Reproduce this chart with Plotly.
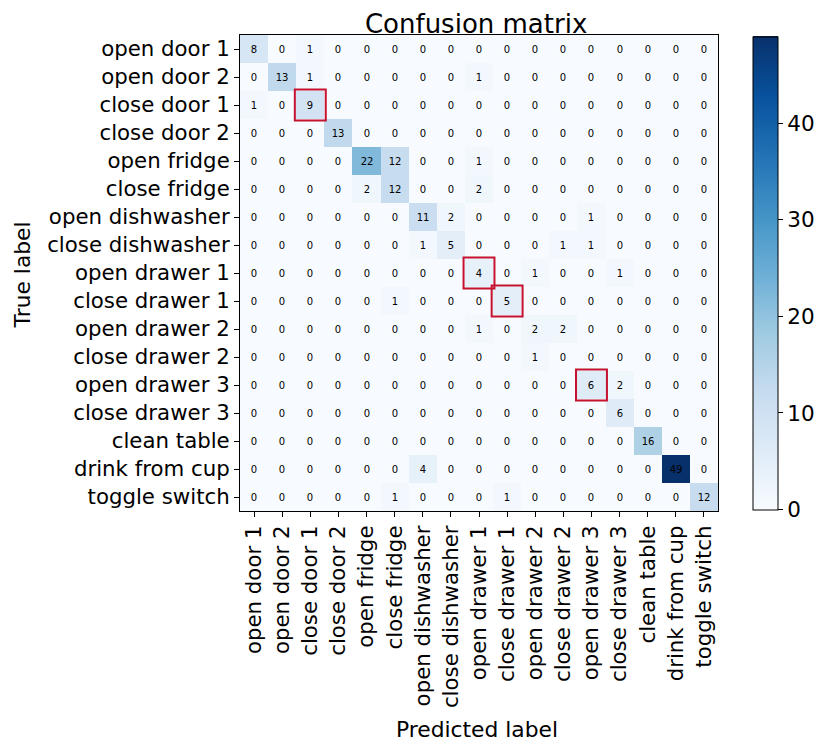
import plotly.graph_objects as go

labels = ["open door 1", "open door 2", "close door 1", "close door 2",
          "open fridge", "close fridge", "open dishwasher", "close dishwasher",
          "open drawer 1", "close drawer 1", "open drawer 2", "close drawer 2",
          "open drawer 3", "close drawer 3", "clean table", "drink from cup",
          "toggle switch"]

matrix = [
    [8, 0, 1, 0, 0, 0, 0, 0, 0, 0, 0, 0, 0, 0, 0, 0, 0],
    [0, 13, 1, 0, 0, 0, 0, 0, 1, 0, 0, 0, 0, 0, 0, 0, 0],
    [1, 0, 9, 0, 0, 0, 0, 0, 0, 0, 0, 0, 0, 0, 0, 0, 0],
    [0, 0, 0, 13, 0, 0, 0, 0, 0, 0, 0, 0, 0, 0, 0, 0, 0],
    [0, 0, 0, 0, 22, 12, 0, 0, 1, 0, 0, 0, 0, 0, 0, 0, 0],
    [0, 0, 0, 0, 2, 12, 0, 0, 2, 0, 0, 0, 0, 0, 0, 0, 0],
    [0, 0, 0, 0, 0, 0, 11, 2, 0, 0, 0, 0, 1, 0, 0, 0, 0],
    [0, 0, 0, 0, 0, 0, 1, 5, 0, 0, 0, 1, 1, 0, 0, 0, 0],
    [0, 0, 0, 0, 0, 0, 0, 0, 4, 0, 1, 0, 0, 1, 0, 0, 0],
    [0, 0, 0, 0, 0, 1, 0, 0, 0, 5, 0, 0, 0, 0, 0, 0, 0],
    [0, 0, 0, 0, 0, 0, 0, 0, 1, 0, 2, 2, 0, 0, 0, 0, 0],
    [0, 0, 0, 0, 0, 0, 0, 0, 0, 0, 1, 0, 0, 0, 0, 0, 0],
    [0, 0, 0, 0, 0, 0, 0, 0, 0, 0, 0, 0, 6, 2, 0, 0, 0],
    [0, 0, 0, 0, 0, 0, 0, 0, 0, 0, 0, 0, 0, 6, 0, 0, 0],
    [0, 0, 0, 0, 0, 0, 0, 0, 0, 0, 0, 0, 0, 0, 16, 0, 0],
    [0, 0, 0, 0, 0, 0, 4, 0, 0, 0, 0, 0, 0, 0, 0, 49, 0],
    [0, 0, 0, 0, 0, 1, 0, 0, 0, 1, 0, 0, 0, 0, 0, 0, 12],
]

highlighted = ["close door 1", "open drawer 1", "close drawer 1", "open drawer 3"]

colorbar_ticks = [0, 10, 20, 30, 40]

blues = [
    [0.0, "rgb(247,251,255)"], [0.125, "rgb(222,235,247)"], [0.25, "rgb(198,219,239)"],
    [0.375, "rgb(158,202,225)"], [0.5, "rgb(107,174,214)"], [0.625, "rgb(66,146,198)"],
    [0.75, "rgb(33,113,181)"], [0.875, "rgb(8,81,156)"], [1.0, "rgb(8,48,107)"],
]

FONT = "DejaVu Sans"
n = len(labels)
idx = list(range(n))
zmax = max(max(r) for r in matrix)

fig = go.Figure(go.Heatmap(
    z=matrix, x=idx, y=idx,
    colorscale=blues, zmin=0, zmax=zmax,
    text=[[str(v) for v in row] for row in matrix],
    texttemplate="%{text}",
    textfont=dict(family=FONT, size=10, color="black"),
    hoverinfo="skip",
    colorbar=dict(
        x=1.073, xanchor="left", xref="paper",
        y=0.5, yanchor="middle", yref="paper", len=0.994, lenmode="fraction",
        thickness=25, thicknessmode="pixels", xpad=0, ypad=0,
        outlinewidth=1, outlinecolor="black",
        tickvals=colorbar_ticks, ticks="outside", ticklen=5,
        tickcolor="black", tickwidth=1,
        tickfont=dict(family=FONT, size=21.5, color="black"),
    ),
))

for lab in highlighted:
    k = labels.index(lab)
    fig.add_shape(type="rect", xref="x", yref="y",
                  x0=k - 0.55, x1=k + 0.55, y0=k - 0.55, y1=k + 0.55,
                  line=dict(color="#c4122f", width=2), fillcolor="rgba(0,0,0,0)")

axis_common = dict(
    tickvals=idx, ticktext=labels, ticks="outside", ticklen=5,
    tickcolor="black", tickwidth=1, automargin=False,
    tickfont=dict(family=FONT, size=21.3, color="black"),
    showgrid=False, zeroline=False, showline=True, linecolor="black",
    linewidth=1, mirror=True,
)

fig.update_xaxes(range=[-0.5, n - 0.5], tickangle=-90, **axis_common)
fig.update_yaxes(range=[n - 0.5, -0.5], **axis_common)

fig.update_layout(
    width=829, height=745,
    margin=dict(l=232, r=119, t=27, b=242, pad=0, autoexpand=False),
    paper_bgcolor="white", plot_bgcolor="white",
    title=dict(text="Confusion matrix", x=0.494, xref="paper", xanchor="center",
               y=1 - 16 / 745, yref="container", yanchor="middle",
               font=dict(family=FONT, size=26, color="black")),
    annotations=[
        dict(text="Predicted label", xref="paper", yref="paper", x=0.496, y=-0.458,
             showarrow=False, xanchor="center", yanchor="middle",
             font=dict(family=FONT, size=21.8, color="black")),
        dict(text="True label", xref="paper", yref="paper", x=-0.4854, y=0.496,
             showarrow=False, xanchor="left", yanchor="middle", textangle=-90,
             font=dict(family=FONT, size=21.8, color="black")),
    ],
)

fig.write_html("out.html")
